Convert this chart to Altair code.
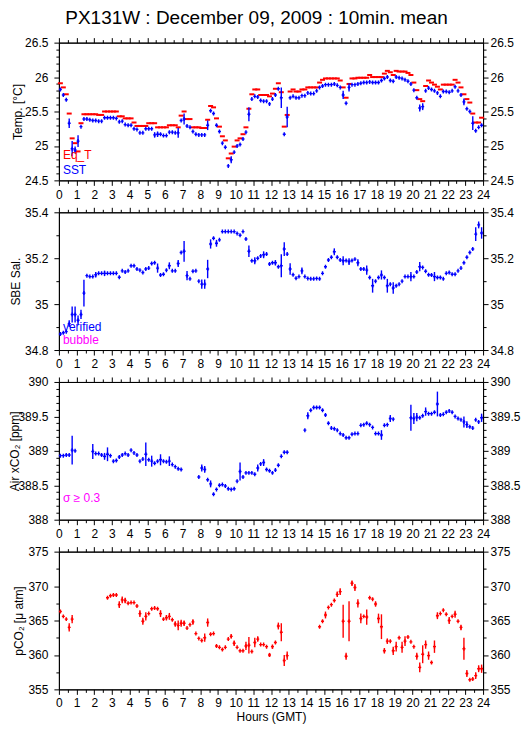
import altair as alt
import pandas as pd

FONT = "Liberation Sans"
TITLE = "PX131W : December 09, 2009 : 10min. mean"
SLOT_MIN = 10
N_SLOTS = 144

BLUE = "#0000ff"
RED = "#ff0000"
MAGENTA = "#ff00ff"

# ---------------- data (10-minute means, slot index 0..143) ----------------
SST = [25.82, 25.74, 25.67, 25.33, 24.96, 24.94, 25.07, 25.28, 25.39, 25.39, 25.38, 25.37,
       25.37, 25.36, 25.36, 25.41, 25.41, 25.41, 25.41, 25.40, 25.35, 25.36, 25.31, 25.30,
       25.30, 25.25, 25.24, 25.19, 25.19, 25.25, 25.25, 25.25, 25.16, 25.17, 25.17, 25.15,
       25.15, 25.20, 25.20, 25.19, 25.19, 25.37, 25.39, 25.29, 25.27, 25.21, 25.17, 25.16,
       25.16, 25.16, 25.30, 25.51, 25.47, 25.30, 25.21, 25.04, 24.98, 24.71, 24.80, 24.91,
       25.00, 25.02, 25.10, 25.20, 25.46, 25.68, 25.72, 25.71, 25.66, 25.65, 25.65, 25.61,
       25.68, 25.74, 25.83, 25.70, 25.17, 25.42, 25.70, 25.72, 25.70, 25.70, 25.73, 25.73,
       25.77, 25.76, 25.76, 25.80, 25.85, 25.87, 25.89, 25.89, 25.89, 25.90, 25.88, 25.85,
       25.74, 25.62, 25.85, 25.89, 25.89, 25.90, 25.91, 25.92, 25.92, 25.93, 25.92, 25.92,
       25.92, 25.95, 25.98, 26.00, 25.95, 25.94, 26.00, 25.99, 25.98, 25.96, 25.94, 25.90,
       25.81, 25.70, 25.55, 25.57, 25.80, 25.84, 25.82, 25.80, 25.77, 25.72, 25.79, 25.79,
       25.78, 25.80, 25.86, 25.80, 25.74, 25.64, 25.54, 25.50, 25.33, 25.22, 25.27, 25.30]
SST_SD = {3: 0.07, 4: 0.11, 5: 0.05, 6: 0.085, 32: 0.04, 33: 0.04, 40: 0.07, 42: 0.08,
          50: 0.07, 58: 0.05, 64: 0.1, 75: 0.15, 77: 0.15, 96: 0.06, 98: 0.06, 122: 0.05,
          123: 0.05, 137: 0.05, 140: 0.1}

EQT = [25.91, 25.85, 25.75, 25.47, 25.11, 25.04, 24.92, 25.33, 25.46, 25.46, 25.46, 25.46,
       25.46, 25.45, 25.45, 25.50, 25.50, 25.50, 25.50, 25.50, 25.43, 25.43, 25.40, 25.40,
       25.40, 25.34, 25.29, 25.29, 25.29, 25.29, 25.33, 25.33, 25.33, 25.27, 25.27, 25.27,
       25.27, 25.30, 25.30, 25.30, 25.27, 25.44, 25.50, 25.39, 25.39, 25.27, 25.27, 25.27,
       25.26, 25.26, 25.38, 25.58, 25.56, 25.40, 25.28, 25.14, 25.08, 24.82, 24.89, 24.99,
       25.08, 25.11, 25.17, 25.27, 25.54, 25.75, 25.82, 25.82, 25.74, 25.74, 25.74, 25.72,
       25.76, 25.83, 25.91, 25.78, 25.28, 25.45, 25.79, 25.82, 25.79, 25.79, 25.82, 25.82,
       25.85, 25.85, 25.85, 25.85, 25.92, 25.96, 25.98, 25.98, 25.98, 25.98, 25.98, 25.95,
       25.85, 25.70, 25.90, 25.98, 25.98, 25.99, 25.99, 25.99, 25.99, 26.03, 26.00, 26.00,
       26.00, 26.00, 26.05, 26.09, 26.07, 26.03, 26.09, 26.08, 26.08, 26.08, 26.06, 26.03,
       25.92, 25.81, 25.68, 25.65, 25.87, 25.95, 25.92, 25.89, 25.86, 25.82, 25.89, 25.89,
       25.89, 25.89, 25.96, 25.92, 25.85, 25.75, 25.68, 25.63, 25.47, 25.34, 25.34, 25.41]

SAL = [34.870, 34.875, 34.880, 34.915, 34.955, 34.955, 34.930, 34.955, 35.048, 35.124, 35.120, 35.120,
       35.128, 35.134, 35.134, 35.134, 35.134, 35.134, 35.134, 35.134, 35.117, 35.145, 35.140, 35.145,
       35.167, 35.167, 35.153, 35.148, 35.138, 35.153, 35.157, 35.177, 35.180, 35.157, 35.127, 35.130,
       35.148, 35.167, 35.145, 35.145, 35.177, 35.225, 35.230, 35.124, 35.110, 35.143, 35.145, 35.100,
       35.087, 35.087, 35.153, 35.262, 35.287, 35.265, 35.280, 35.316, 35.316, 35.316, 35.316, 35.316,
       35.308, 35.300, 35.316, 35.284, 35.230, 35.189, 35.189, 35.200, 35.210, 35.215, 35.218, 35.175,
       35.180, 35.180, 35.163, 35.167, 35.240, 35.218, 35.153, 35.128, 35.113, 35.120, 35.145, 35.120,
       35.112, 35.110, 35.110, 35.112, 35.110, 35.134, 35.163, 35.192, 35.204, 35.228, 35.204, 35.192,
       35.189, 35.190, 35.185, 35.190, 35.196, 35.180, 35.153, 35.153, 35.148, 35.116, 35.080, 35.100,
       35.116, 35.127, 35.116, 35.080, 35.087, 35.070, 35.080, 35.087, 35.100, 35.120, 35.120, 35.120,
       35.120, 35.140, 35.163, 35.160, 35.143, 35.128, 35.127, 35.120, 35.116, 35.116, 35.110, 35.134,
       35.138, 35.130, 35.130, 35.145, 35.157, 35.180, 35.204, 35.225, 35.240, 35.305, 35.345, 35.310]
SAL_SD = {3: 0.015, 4: 0.035, 5: 0.035, 6: 0.02, 7: 0.02, 8: 0.058, 12: 0.012, 15: 0.012,
          33: 0.02, 37: 0.015, 40: 0.015, 42: 0.045, 43: 0.02, 48: 0.02, 49: 0.02, 50: 0.04,
          51: 0.02, 53: 0.015, 64: 0.025, 66: 0.015, 69: 0.015, 73: 0.012, 75: 0.05, 76: 0.03,
          78: 0.025, 82: 0.015, 93: 0.015, 96: 0.02, 98: 0.015, 101: 0.015, 104: 0.02, 106: 0.03,
          109: 0.02, 111: 0.03, 113: 0.025, 119: 0.02, 122: 0.02, 127: 0.02, 141: 0.03,
          142: 0.015, 143: 0.025}

AIR = [388.93, 388.93, 388.94, 388.94, 389.01, 389.00, None, None, None, None, None, 388.99,
       388.96, 388.96, 388.94, 388.92, 388.95, 388.93, 388.85, 388.86, 388.91, 388.94, 388.96, 388.94,
       389.01, 388.97, 388.94, 388.85, 388.88, 388.95, 388.87, 388.85, 388.82, 388.85, 388.87, 388.85,
       388.84, 388.85, 388.80, 388.77, 388.74, 388.73, None, None, None, None, None, 388.62,
       388.75, 388.73, 388.58, 388.52, 388.37, 388.44, 388.50, 388.51, 388.49, 388.45, 388.44, 388.45,
       388.56, 388.70, 388.62, 388.68, 388.68, 388.68, 388.66, 388.75, 388.81, 388.83, 388.73, 388.71,
       388.68, 388.72, 388.79, 388.92, 388.98, 388.98, None, None, None, None, None, 389.30,
       389.51, 389.59, 389.63, 389.63, 389.63, 389.59, 389.52, 389.40, 389.33, 389.32, 389.30, 389.25,
       389.23, 389.19, 389.19, 389.24, 389.25, 389.25, 389.37, 389.38, 389.40, 389.38, 389.34, 389.25,
       389.25, 389.23, 389.37, 389.38, 389.47, 389.46, None, None, None, None, None, 389.48,
       389.47, 389.49, 389.48, 389.51, 389.57, 389.54, 389.54, 389.56, 389.68, 389.52, 389.53, 389.56,
       389.58, 389.56, 389.50, 389.47, 389.45, 389.42, 389.38, 389.35, 389.33, 389.45, 389.42, 389.48]
AIR_SD = {4: 0.21, 11: 0.11, 15: 0.05, 16: 0.1, 29: 0.17, 31: 0.08, 34: 0.08, 37: 0.07,
          48: 0.05, 49: 0.05, 51: 0.05, 61: 0.13, 67: 0.05, 69: 0.05, 84: 0.05, 109: 0.07,
          112: 0.05, 119: 0.19, 120: 0.08, 121: 0.06, 124: 0.06, 128: 0.18, 137: 0.08,
          138: 0.05, 143: 0.06}

PCO2 = [366.3, 365.6, 365.2, 364.0, 365.2, None, None, None, None, None, None, None,
        None, None, None, None, 368.3, 368.6, 368.7, 368.7, 367.3, 368.0, 367.9, 367.5,
        367.6, 367.6, 367.1, 366.0, 364.9, 365.6, 366.0, 366.7, 366.8, 366.7, 366.0, 365.2,
        365.4, 365.6, 365.1, 364.5, 364.3, 364.6, 364.6, 363.9, 364.4, 364.8, 363.1, 362.4,
        362.1, 362.5, 364.7, 363.0, 363.1, 361.3, 361.1, 360.8, 361.1, 362.3, 362.7, 361.7,
        361.1, 360.6, 360.6, 361.3, 361.4, 360.5, 361.8, 362.3, 361.5, 361.5, 361.2, 360.0,
        361.2, 361.8, 364.2, 363.3, 359.2, 359.9, None, None, None, None, None, None,
        None, None, None, None, 364.1, 364.9, 365.8, 366.9, 367.3, 367.9, 368.8, 369.2,
        364.9, 359.8, 364.9, 370.4, 369.8, 367.5, 365.3, 365.6, 365.5, 368.3, 368.1, 367.4,
        365.3, 364.1, 360.6, 362.0, 362.0, 360.6, 361.2, 362.5, 361.1, 362.0, 362.6, 361.9,
        361.2, 359.8, 358.2, 360.1, 361.5, 359.9, 358.9, 361.2, 365.7, 366.0, 366.5, 365.9,
        365.0, 365.6, 365.9, 364.9, 364.0, 360.9, 357.3, 356.4, 356.5, 357.0, 358.0, 358.0]
PCO2_SD = {3: 0.6, 4: 0.6, 20: 0.5, 21: 0.5, 22: 0.4, 27: 0.5, 28: 0.5, 29: 0.6, 34: 0.5,
           36: 0.4, 37: 0.5, 39: 0.4, 40: 0.7, 41: 0.5, 42: 0.4, 45: 0.4, 49: 0.6, 50: 0.6,
           58: 0.3, 59: 0.4, 63: 0.6, 64: 1.2, 66: 0.7, 67: 0.4, 71: 0.3, 72: 0.3, 74: 0.5,
           75: 1.3, 76: 0.8, 77: 0.6, 90: 0.5, 94: 0.4, 95: 0.5, 96: 2.4, 97: 0.5, 98: 2.9,
           99: 0.4, 100: 0.5, 101: 0.6, 102: 0.7, 104: 1.1, 107: 0.4, 108: 0.7, 109: 1.8,
           110: 0.4, 111: 0.4, 113: 0.6, 114: 0.7, 116: 0.8, 117: 0.7, 121: 0.5, 122: 0.7,
           123: 1.3, 124: 0.6, 125: 0.6, 127: 0.9, 128: 0.5, 132: 0.5, 134: 0.5, 136: 0.4,
           137: 1.6, 138: 0.5, 141: 0.5, 142: 0.5, 143: 0.6}

HOURS = [(i + 0.5) * SLOT_MIN / 60 for i in range(N_SLOTS)]

# ---------------- helpers ----------------
PLUS = "M-0.75,0L0.75,0M0,-1L0,1"
DASH = "M-1,0L1,0"
W, H = 425, 138
XSCALE = alt.Scale(domain=[0, 24], nice=False, zero=False)


def frame(vals, sd=None):
    rows = []
    for i, (h, v) in enumerate(zip(HOURS, vals)):
        if v is None:
            continue
        s = (sd or {}).get(i)
        rows.append({"h": h, "v": v, "lo": v - s if s else v, "hi": v + s if s else v,
                     "err": bool(s)})
    return pd.DataFrame(rows)


def steps(lo, hi, step):
    n = int(round((hi - lo) / step))
    return [round(lo + k * step, 6) for k in range(n + 1)]


def is_major(step):
    return f"abs(datum.value / {step} - round(datum.value / {step})) < 0.000001"


def x_axis(orient, labels, title=None, label_pad=4, title_pad=2):
    test = is_major(1)
    kw = dict(orient=orient, values=steps(0, 24, 0.5), grid=False,
              tickSize={"condition": {"test": test, "value": 5}, "value": 3},
              labelFlush=False, labelOverlap=False, format="~g",
              labelExpr=f"{test} ? datum.label : ''", labelPadding=label_pad,
              title=title, titlePadding=title_pad)
    if not labels:
        kw["labels"] = False
    return alt.Axis(**kw)


def y_axis(orient, lo, hi, major, minor, title=None, title_x=0, label_pad=6):
    test = is_major(major)
    kw = dict(orient=orient, values=steps(lo, hi, minor), grid=False,
              tickSize={"condition": {"test": test, "value": 5}, "value": 3},
              labelFlush=False, labelOverlap=False, format="~g",
              labelExpr=f"{test} ? datum.label : ''", labelPadding=label_pad,
              title=title)
    if title:
        kw.update(titleX=title_x, titleY=H / 2, titleAngle=270, titleAlign="center",
                  titleBaseline="middle")
    return alt.Axis(**kw)


def series_layers(df, color, shape, size, width, yscale, axes=None):
    pts = alt.Chart(df).mark_point(shape=shape, size=size, filled=False, strokeWidth=width,
                                   opacity=1, color=color)
    if axes:
        pts = pts.encode(x=alt.X("h:Q", scale=XSCALE, axis=axes[0]),
                         y=alt.Y("v:Q", scale=yscale, axis=axes[1]))
    else:
        pts = pts.encode(x=alt.X("h:Q", scale=XSCALE, axis=None),
                         y=alt.Y("v:Q", scale=yscale, axis=None))
    layers = [pts]
    errs = df[df["err"]]
    if len(errs):
        layers.insert(0, alt.Chart(errs).mark_rule(color=color, strokeWidth=1.4).encode(
            x=alt.X("h:Q", scale=XSCALE, axis=None),
            y=alt.Y("lo:Q", scale=yscale, axis=None),
            y2="hi:Q"))
    return layers


def label(text, color, ypix):
    return alt.Chart(pd.DataFrame({"k": [0]})).mark_text(
        text=text, color=color, align="left", baseline="middle", font=FONT, fontSize=12
    ).encode(x=alt.value(4), y=alt.value(ypix))


def panel(series, ylo, yhi, major, minor, ytitle, title_x, texts, xtitle=None,
          label_pad=4, title_pad=2):
    yscale = alt.Scale(domain=[ylo, yhi], nice=False, zero=False)
    layers = []
    for k, (df, color, shape, size, width) in enumerate(series):
        axes = None
        if k == 0:
            axes = (x_axis("bottom", True, xtitle, label_pad, title_pad),
                    y_axis("left", ylo, yhi, major, minor, ytitle, title_x))
        layers += series_layers(df, color, shape, size, width, yscale, axes)
    base = series[0][0]
    frame_layer = alt.Chart(base).mark_point(opacity=0).encode(
        x=alt.X("h:Q", scale=XSCALE, axis=x_axis("top", False)),
        y=alt.Y("v:Q", scale=yscale,
                axis=y_axis("right", ylo, yhi, major, minor, label_pad=2)))
    layers.append(frame_layer)
    for t, c, yp in texts:
        layers.append(label(t, c, yp))
    return alt.layer(*layers).properties(width=W, height=H)


p1 = panel([(frame(EQT), RED, DASH, 25, 2), (frame(SST, SST_SD), BLUE, PLUS, 16, 1.4)],
           24.5, 26.5, 0.5, 0.1, "Temp. [°C]", -41,
           [("Eq_T", RED, 113), ("SST", BLUE, 128)])
p2 = panel([(frame(SAL, SAL_SD), BLUE, PLUS, 16, 1.4)],
           34.8, 35.4, 0.2, 0.1, "SBE Sal.", -43,
           [("verified", BLUE, 115), ("bubble", MAGENTA, 128)])
p3 = panel([(frame(AIR, AIR_SD), BLUE, PLUS, 16, 1.4)],
           388, 390, 0.5, 0.1, "Air xCO\u2082 [ppm]", -44,
           [("\u03c3 \u2265 0.3", MAGENTA, 116)])
p4 = panel([(frame(PCO2, PCO2_SD), RED, PLUS, 16, 1.4)],
           355, 375, 5, 2.5, "pCO\u2082 [\u03bc atm]", -40,
           [], xtitle="Hours (GMT)", label_pad=3, title_pad=3)

chart = alt.vconcat(p1, p2, p3, p4, spacing=32, bounds="flush").resolve_scale(
    x="independent", y="independent"
).properties(
    title=alt.Title(TITLE, dx=-8, offset=8),
    padding={"left": 0, "top": 0, "right": 0, "bottom": 0},
).configure_view(stroke="black", strokeWidth=1).configure_axis(
    labelFont=FONT, labelFontSize=12, labelColor="black",
    titleFont=FONT, titleFontSize=12, titleFontWeight="normal", titleColor="black",
    tickColor="black", domainColor="black", tickWidth=1, domainWidth=1,
).configure_title(font=FONT, fontSize=19, fontWeight="normal", color="black",
                  anchor="middle")

chart.save("out.html", embed_options={"renderer": "svg", "actions": False})
